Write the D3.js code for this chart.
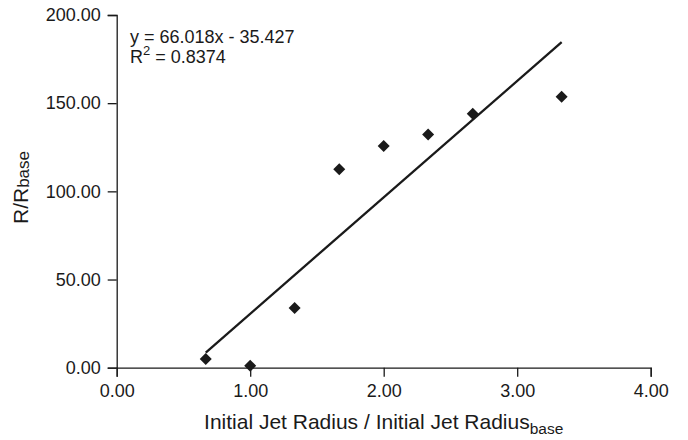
<!DOCTYPE html>
<html>
<head>
<meta charset="utf-8">
<script src="https://cdn.jsdelivr.net/npm/d3@7"></script>
<style>
  body { margin: 0; background: #fff; }
  text { font-family: "Liberation Sans", Arial, sans-serif; fill: #1a1a1a; }
</style>
</head>
<body>
<div id="chart"></div>
<script>
// data
const radiusRatio = [0.667, 1.0, 1.333, 1.667, 2.0, 2.333, 2.667, 3.333];
const resistRatio = [4.9, 1.1, 33.9, 112.5, 125.7, 132.3, 144.0, 153.7];
const xTicks = [0, 1, 2, 3, 4];
const yTicks = [0, 50, 100, 150, 200];
const slope = 66.018;
const intercept = -35.427;
const rSquared = "0.8374";

const W = 688, H = 440;
const margin = { top: 15, right: 37.3, bottom: 72.3, left: 116.7 };
const width = W - margin.left - margin.right;
const height = H - margin.top - margin.bottom;

const svg = d3.select("#chart").append("svg")
    .attr("width", W)
    .attr("height", H);

const g = svg.append("g")
    .attr("transform", `translate(${margin.left},${margin.top})`);

const x = d3.scaleLinear().domain([0, 4]).range([0, width]);
const y = d3.scaleLinear().domain([0, 200]).range([height, 0]);

// axes
const xAxis = g.append("g")
    .attr("transform", `translate(0,${height})`)
    .call(d3.axisBottom(x).tickValues(xTicks).tickFormat(d3.format(".2f"))
        .tickSize(9).tickPadding(8));

const yAxis = g.append("g")
    .call(d3.axisLeft(y).tickValues(yTicks).tickFormat(d3.format(".2f"))
        .tickSize(9).tickPadding(7));

[xAxis, yAxis].forEach(a => {
    a.selectAll("path, line").attr("stroke", "#1a1a1a").attr("stroke-width", 1.3);
    a.selectAll("text").style("font-size", "18px").attr("fill", "#1a1a1a")
        .style("font-family", "'Liberation Sans', Arial, sans-serif");
});

// trendline
const xs = d3.extent(radiusRatio);
g.append("line")
    .attr("x1", x(xs[0])).attr("y1", y(slope * xs[0] + intercept))
    .attr("x2", x(xs[1])).attr("y2", y(slope * xs[1] + intercept))
    .attr("stroke", "#1a1a1a")
    .attr("stroke-width", 2.3);

// points as diamonds
const diamond = d3.symbol().type(d3.symbolSquare).size(72);
g.selectAll(".pt")
    .data(radiusRatio.map((v, i) => ({ x: v, y: resistRatio[i] })))
    .enter().append("path")
    .attr("class", "pt")
    .attr("d", diamond)
    .attr("transform", d => `translate(${x(d.x)},${y(d.y)}) rotate(45)`)
    .attr("fill", "#1a1a1a");

// equation
const eq = svg.append("g").style("font-size", "18px");
eq.append("text")
    .attr("x", 130).attr("y", 42.7)
    .text(`y = ${slope}x - ${Math.abs(intercept)}`);
const r2 = eq.append("text").attr("x", 130).attr("y", 63.3);
r2.append("tspan").text("R");
r2.append("tspan").attr("dy", -8).style("font-size", "13px").text("2");
r2.append("tspan").attr("dy", 8).text(` = ${rSquared}`);

// axis titles
const xt = svg.append("text")
    .attr("x", margin.left + width / 2)
    .attr("y", 429.3)
    .attr("text-anchor", "middle")
    .style("font-size", "21px");
xt.append("tspan").text("Initial Jet Radius / Initial Jet Radius");
xt.append("tspan").attr("dy", 5).style("font-size", "15.5px").text("base");

const yt = svg.append("text")
    .attr("transform", "translate(28.3,187.5) rotate(-90)")
    .attr("text-anchor", "middle")
    .style("font-size", "21px");
yt.append("tspan").text("R/R");
yt.append("tspan").attr("dy", 1).style("font-size", "17px").text("base");
</script>
</body>
</html>
